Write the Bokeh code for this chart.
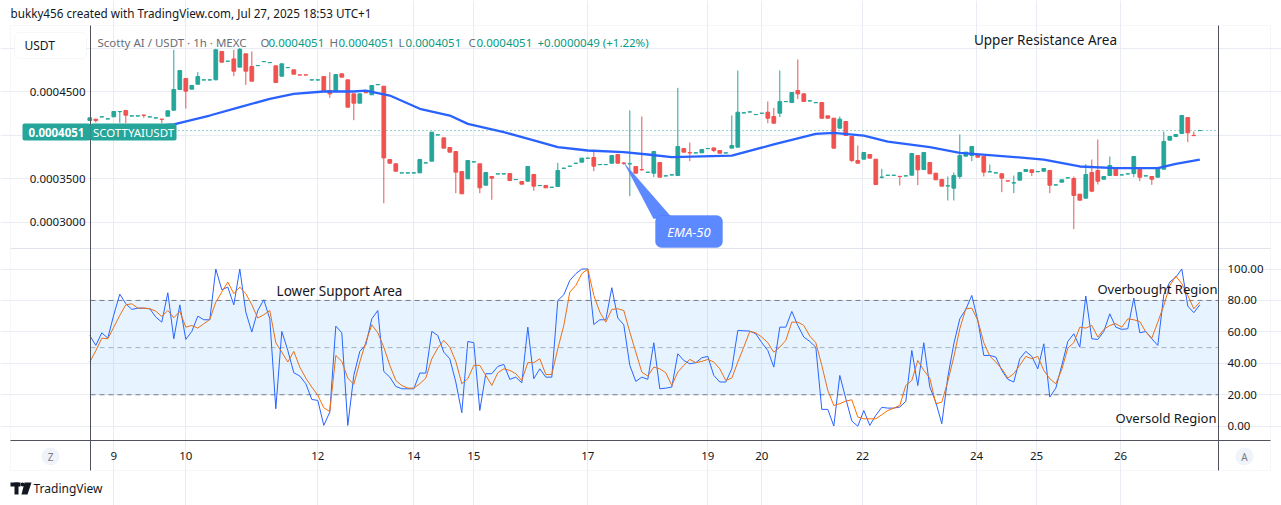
from bokeh.plotting import figure
from bokeh.models import (ColumnDataSource, FixedTicker, Label, BoxAnnotation, PolyAnnotation,
                          Range1d, Grid)
from bokeh.core.properties import value
from bokeh.embed import file_html
from bokeh.resources import INLINE

# ---------------- data ----------------
opens = [0.0004167, 0.0004182, 0.0004207, 0.0004184, 0.0004209, 0.0004268, 0.0004282, 0.0004218, 0.0004218, 0.0004228,
         0.0004207, 0.0004195, 0.0004182, 0.0004216, 0.0004285, 0.0004523, 0.0004649, 0.0004527, 0.0004584, 0.0004632,
         0.0004632, 0.0004634, 0.0004960, 0.0004847, 0.0004875, 0.0004780, 0.0004933, 0.0004787, 0.0004797, 0.0004843,
         0.0004831, 0.0004795, 0.0004676, 0.0004774, 0.0004749, 0.0004691, 0.0004691, 0.0004632, 0.0004632, 0.0004672,
         0.0004511, 0.0004500, 0.0004703, 0.0004634, 0.0004473, 0.0004366, 0.0004488, 0.0004462, 0.0004578, 0.0004561,
         0.0003718, 0.0003669, 0.0003563, 0.0003563, 0.0003563, 0.0003565, 0.0003678, 0.0003699, 0.0004000, 0.0003967,
         0.0003856, 0.0003810, 0.0003580, 0.0003496, 0.0003690, 0.0003669, 0.0003423, 0.0003523, 0.0003552, 0.0003552,
         0.0003557, 0.0003487, 0.0003466, 0.0003469, 0.0003546, 0.0003418, 0.0003420, 0.0003398, 0.0003408, 0.0003617,
         0.0003640, 0.0003674, 0.0003688, 0.0003732, 0.0003741, 0.0003659, 0.0003659, 0.0003676, 0.0003776, 0.0003678,
         0.0003667, 0.0003638, 0.0003602, 0.0003571, 0.0003561, 0.0003684, 0.0003529, 0.0003540, 0.0003534, 0.0003845,
         0.0003797, 0.0003793, 0.0003795, 0.0003843, 0.0003852, 0.0003822, 0.0003793, 0.0003849, 0.0003860, 0.0004253,
         0.0004264, 0.0004234, 0.0004249, 0.0004262, 0.0004213, 0.0004251, 0.0004383, 0.0004373, 0.0004511, 0.0004473,
         0.0004391, 0.0004371, 0.0004373, 0.0004220, 0.0004193, 0.0004078, 0.0004155, 0.0003983, 0.0003707, 0.0003722,
         0.0003776, 0.0003722, 0.0003513, 0.0003536, 0.0003536, 0.0003525, 0.0003529, 0.0003538, 0.0003764, 0.0003603,
         0.0003684, 0.0003561, 0.0003489, 0.0003414, 0.0003389, 0.0003523, 0.0003757, 0.0003764, 0.0003776, 0.0003753,
         0.0003575, 0.0003563, 0.0003554, 0.0003473, 0.0003448, 0.0003481, 0.0003580, 0.0003600, 0.0003578, 0.0003584,
         0.0003592, 0.0003425, 0.0003458, 0.0003506, 0.0003500, 0.0003320, 0.0003274, 0.0003569, 0.0003592, 0.0003492,
         0.0003534, 0.0003626, 0.0003540, 0.0003552, 0.0003557, 0.0003607, 0.0003529, 0.0003523, 0.0003515, 0.0003607,
         0.0003941, 0.0003983, 0.0004017, 0.0004201, 0.0003996, 0.0004051]
highs = [0.0004200, 0.0004185, 0.0004210, 0.0004187, 0.0004272, 0.0004271, 0.0004285, 0.0004221, 0.0004221, 0.0004236,
         0.0004210, 0.0004198, 0.0004183, 0.0004280, 0.0004979, 0.0004743, 0.0004651, 0.0004571, 0.0004722, 0.0004635,
         0.0004635, 0.0004990, 0.0004962, 0.0004850, 0.0004979, 0.0005000, 0.0004935, 0.0004960, 0.0004800, 0.0004846,
         0.0004834, 0.0004797, 0.0004820, 0.0004777, 0.0004751, 0.0004692, 0.0004692, 0.0004635, 0.0004635, 0.0004674,
         0.0004722, 0.0004697, 0.0004705, 0.0004636, 0.0004475, 0.0004475, 0.0004489, 0.0004571, 0.0004581, 0.0004563,
         0.0003720, 0.0003671, 0.0003566, 0.0003566, 0.0003566, 0.0003720, 0.0003681, 0.0004035, 0.0004003, 0.0003969,
         0.0003858, 0.0003812, 0.0003582, 0.0003709, 0.0003693, 0.0003671, 0.0003571, 0.0003525, 0.0003555, 0.0003555,
         0.0003559, 0.0003490, 0.0003468, 0.0003640, 0.0003548, 0.0003421, 0.0003422, 0.0003401, 0.0003680, 0.0003620,
         0.0003643, 0.0003677, 0.0003736, 0.0003735, 0.0003822, 0.0003662, 0.0003662, 0.0003766, 0.0003778, 0.0003688,
         0.0004282, 0.0003640, 0.0004213, 0.0003574, 0.0003812, 0.0003686, 0.0003532, 0.0003543, 0.0004542, 0.0003847,
         0.0003914, 0.0003796, 0.0003835, 0.0003846, 0.0003854, 0.0003824, 0.0003796, 0.0004224, 0.0004741, 0.0004256,
         0.0004267, 0.0004237, 0.0004252, 0.0004385, 0.0004312, 0.0004741, 0.0004386, 0.0004490, 0.0004868, 0.0004475,
         0.0004394, 0.0004374, 0.0004375, 0.0004222, 0.0004195, 0.0004213, 0.0004157, 0.0003985, 0.0003879, 0.0003801,
         0.0003778, 0.0003724, 0.0003611, 0.0003539, 0.0003539, 0.0003527, 0.0003532, 0.0003789, 0.0003766, 0.0003801,
         0.0003686, 0.0003563, 0.0003491, 0.0003523, 0.0003569, 0.0004006, 0.0003805, 0.0003870, 0.0003778, 0.0003755,
         0.0003661, 0.0003566, 0.0003556, 0.0003474, 0.0003534, 0.0003571, 0.0003605, 0.0003602, 0.0003581, 0.0003617,
         0.0003594, 0.0003428, 0.0003487, 0.0003515, 0.0003523, 0.0003322, 0.0003665, 0.0003718, 0.0003948, 0.0003525,
         0.0003753, 0.0003628, 0.0003543, 0.0003555, 0.0003755, 0.0003609, 0.0003532, 0.0003525, 0.0003617, 0.0004040,
         0.0003985, 0.0004008, 0.0004226, 0.0004203, 0.0004040, 0.0004051]
lows = [0.0004160, 0.0004144, 0.0004206, 0.0004183, 0.0004207, 0.0004140, 0.0004136, 0.0004217, 0.0004217, 0.0004197,
        0.0004206, 0.0004194, 0.0004136, 0.0004214, 0.0004283, 0.0004521, 0.0004304, 0.0004525, 0.0004582, 0.0004631,
        0.0004631, 0.0004632, 0.0004835, 0.0004846, 0.0004676, 0.0004778, 0.0004576, 0.0004617, 0.0004796, 0.0004842,
        0.0004830, 0.0004601, 0.0004674, 0.0004773, 0.0004697, 0.0004688, 0.0004688, 0.0004631, 0.0004631, 0.0004498,
        0.0004427, 0.0004498, 0.0004663, 0.0004318, 0.0004170, 0.0004364, 0.0004485, 0.0004460, 0.0004577, 0.0003216,
        0.0003674, 0.0003582, 0.0003562, 0.0003562, 0.0003562, 0.0003563, 0.0003677, 0.0003697, 0.0003999, 0.0003847,
        0.0003801, 0.0003331, 0.0003322, 0.0003494, 0.0003689, 0.0003331, 0.0003421, 0.0003255, 0.0003551, 0.0003551,
        0.0003475, 0.0003486, 0.0003433, 0.0003467, 0.0003358, 0.0003417, 0.0003391, 0.0003397, 0.0003406, 0.0003616,
        0.0003639, 0.0003673, 0.0003686, 0.0003731, 0.0003584, 0.0003658, 0.0003658, 0.0003674, 0.0003674, 0.0003657,
        0.0003297, 0.0003559, 0.0003592, 0.0003570, 0.0003515, 0.0003513, 0.0003528, 0.0003539, 0.0003532, 0.0003801,
        0.0003699, 0.0003792, 0.0003793, 0.0003842, 0.0003803, 0.0003789, 0.0003792, 0.0003847, 0.0003858, 0.0004252,
        0.0004263, 0.0004233, 0.0004248, 0.0004136, 0.0004134, 0.0004205, 0.0004382, 0.0004371, 0.0004412, 0.0004383,
        0.0004390, 0.0004370, 0.0004191, 0.0004191, 0.0003847, 0.0004076, 0.0003992, 0.0003688, 0.0003674, 0.0003720,
        0.0003732, 0.0003429, 0.0003500, 0.0003535, 0.0003535, 0.0003420, 0.0003528, 0.0003536, 0.0003423, 0.0003601,
        0.0003552, 0.0003483, 0.0003410, 0.0003247, 0.0003247, 0.0003496, 0.0003755, 0.0003699, 0.0003743, 0.0003523,
        0.0003573, 0.0003562, 0.0003343, 0.0003470, 0.0003331, 0.0003479, 0.0003578, 0.0003527, 0.0003577, 0.0003582,
        0.0003331, 0.0003424, 0.0003456, 0.0003505, 0.0002918, 0.0003249, 0.0003272, 0.0003343, 0.0003431, 0.0003490,
        0.0003532, 0.0003532, 0.0003539, 0.0003551, 0.0003515, 0.0003469, 0.0003528, 0.0003427, 0.0003513, 0.0003605,
        0.0003939, 0.0003981, 0.0004015, 0.0003918, 0.0003986, 0.0004051]
closes = [0.0004197, 0.0004167, 0.0004209, 0.0004186, 0.0004270, 0.0004270, 0.0004228, 0.0004220, 0.0004220, 0.0004226,
          0.0004209, 0.0004197, 0.0004180, 0.0004278, 0.0004523, 0.0004741, 0.0004504, 0.0004569, 0.0004672, 0.0004634,
          0.0004634, 0.0004980, 0.0004837, 0.0004849, 0.0004734, 0.0004985, 0.0004734, 0.0004619, 0.0004799, 0.0004845,
          0.0004833, 0.0004603, 0.0004818, 0.0004776, 0.0004699, 0.0004689, 0.0004689, 0.0004634, 0.0004634, 0.0004500,
          0.0004473, 0.0004695, 0.0004665, 0.0004320, 0.0004366, 0.0004473, 0.0004486, 0.0004569, 0.0004580, 0.0003737,
          0.0003676, 0.0003584, 0.0003565, 0.0003565, 0.0003565, 0.0003718, 0.0003680, 0.0004033, 0.0004002, 0.0003849,
          0.0003803, 0.0003573, 0.0003324, 0.0003707, 0.0003692, 0.0003393, 0.0003569, 0.0003504, 0.0003554, 0.0003554,
          0.0003477, 0.0003489, 0.0003435, 0.0003638, 0.0003412, 0.0003420, 0.0003393, 0.0003400, 0.0003592, 0.0003619,
          0.0003642, 0.0003676, 0.0003734, 0.0003734, 0.0003642, 0.0003661, 0.0003661, 0.0003764, 0.0003676, 0.0003675,
          0.0003670, 0.0003561, 0.0003599, 0.0003573, 0.0003810, 0.0003515, 0.0003531, 0.0003542, 0.0003868, 0.0003803,
          0.0003794, 0.0003795, 0.0003833, 0.0003845, 0.0003822, 0.0003791, 0.0003795, 0.0003879, 0.0004262, 0.0004255,
          0.0004266, 0.0004236, 0.0004251, 0.0004193, 0.0004136, 0.0004385, 0.0004385, 0.0004488, 0.0004473, 0.0004385,
          0.0004393, 0.0004373, 0.0004193, 0.0004193, 0.0003849, 0.0004182, 0.0003994, 0.0003707, 0.0003676, 0.0003799,
          0.0003734, 0.0003431, 0.0003516, 0.0003538, 0.0003538, 0.0003522, 0.0003531, 0.0003787, 0.0003600, 0.0003799,
          0.0003554, 0.0003485, 0.0003412, 0.0003417, 0.0003534, 0.0003764, 0.0003803, 0.0003868, 0.0003745, 0.0003573,
          0.0003578, 0.0003565, 0.0003504, 0.0003471, 0.0003451, 0.0003569, 0.0003603, 0.0003569, 0.0003580, 0.0003615,
          0.0003423, 0.0003427, 0.0003485, 0.0003508, 0.0003305, 0.0003251, 0.0003546, 0.0003354, 0.0003469, 0.0003523,
          0.0003649, 0.0003534, 0.0003542, 0.0003554, 0.0003753, 0.0003515, 0.0003531, 0.0003492, 0.0003615, 0.0003925,
          0.0003983, 0.0004006, 0.0004224, 0.0004025, 0.0003993, 0.0004051]

# EMA-50 read at selected candles
ema_idx = [0, 7, 14, 20, 25, 30, 34, 39, 44, 46, 50, 55, 60, 63, 69, 74, 78, 83, 89, 93, 97, 107,
           114, 121, 124, 129, 133, 140, 145, 151, 159, 165, 171, 178, 181, 185]
ema_val = [0.0004060, 0.0004085, 0.0004121, 0.0004224, 0.0004320, 0.0004416, 0.0004473, 0.0004500,
           0.0004500, 0.0004511, 0.0004454, 0.0004301, 0.0004224, 0.0004128, 0.0004033, 0.0003937,
           0.0003860, 0.0003822, 0.0003803, 0.0003776, 0.0003745, 0.0003764, 0.0003891, 0.0004013,
           0.0004025, 0.0003994, 0.0003925, 0.0003860, 0.0003795, 0.0003764, 0.0003718, 0.0003638,
           0.0003619, 0.0003619, 0.0003669, 0.0003718]

stoch_k = [57.7, 51.4, 59.4, 56.0, 70.9, 84.0, 77.9, 74.3, 75.1, 75.1,
           74.7, 69.4, 66.2, 84.9, 55.6, 77.2, 55.2, 60.3, 70.0, 67.7,
           67.7, 100.0, 86.8, 88.5, 77.2, 100.0, 72.6, 59.9, 73.6, 80.4,
           68.3, 11.1, 60.3, 48.2, 34.0, 31.9, 27.0, 17.0, 16.4, 0.5,
           9.0, 63.7, 59.4, 0.5, 32.3, 47.6, 51.8, 68.3, 73.6, 34.8,
           31.2, 25.3, 23.8, 23.8, 23.8, 33.8, 33.8, 60.3, 57.7, 47.1,
           42.9, 28.1, 8.6, 53.9, 53.1, 10.0, 33.4, 33.4, 38.0, 39.3,
           29.8, 31.2, 27.6, 63.0, 30.2, 36.5, 31.2, 31.2, 80.0, 83.6,
           92.7, 97.0, 100.0, 100.0, 64.7, 67.7, 67.7, 88.1, 68.8, 64.5,
           38.7, 28.5, 31.2, 29.8, 53.1, 23.8, 24.2, 24.9, 46.1, 41.8,
           39.7, 40.4, 43.5, 44.4, 32.3, 28.1, 28.1, 36.5, 60.9, 60.7,
           60.5, 58.8, 53.1, 48.2, 37.6, 63.0, 63.0, 73.0, 64.1, 56.7,
           53.9, 50.3, 10.7, 10.7, 0.1, 32.3, 17.5, 3.3, 0.0, 10.0,
           0.5, 6.9, 12.0, 11.5, 11.5, 12.2, 15.8, 48.2, 25.9, 53.1,
           24.9, 15.3, 1.6, 31.2, 52.4, 68.3, 74.3, 83.2, 67.3, 45.0,
           45.0, 44.0, 35.5, 29.8, 28.1, 42.9, 47.6, 44.4, 36.5, 52.4,
           18.5, 24.2, 38.7, 53.9, 58.8, 50.3, 82.8, 55.6, 55.2, 60.3,
           71.5, 63.0, 61.6, 62.0, 81.5, 59.4, 60.3, 55.6, 51.4, 83.6,
           91.7, 94.8, 100.0, 76.4, 72.2, 77.2]
stoch_d = [40.8, 48.0, 56.0, 55.6, 63.0, 70.5, 77.2, 77.9, 75.1, 75.1,
           74.7, 73.2, 69.8, 73.6, 69.0, 73.0, 63.0, 64.1, 62.4, 65.2,
           67.9, 78.9, 85.3, 91.7, 84.3, 88.5, 84.3, 77.2, 68.8, 70.9,
           73.6, 53.1, 47.1, 40.8, 47.6, 37.6, 30.6, 24.9, 19.6, 11.7,
           9.4, 45.0, 41.2, 30.6, 26.6, 40.8, 53.5, 64.5, 59.4, 50.3,
           38.7, 29.1, 25.9, 24.2, 24.2, 27.0, 30.6, 42.9, 49.7, 54.6,
           50.3, 41.2, 27.0, 30.2, 38.7, 38.7, 32.3, 25.9, 34.0, 36.5,
           35.5, 33.4, 29.1, 40.4, 40.4, 42.9, 32.9, 32.9, 49.3, 64.1,
           85.3, 89.5, 97.0, 100.0, 83.2, 72.6, 66.2, 74.3, 74.7, 73.6,
           59.9, 47.1, 34.4, 31.9, 37.6, 36.5, 34.0, 25.9, 34.4, 38.7,
           42.5, 40.4, 41.2, 42.5, 40.8, 36.5, 29.1, 30.6, 40.8, 50.3,
           60.3, 59.4, 56.7, 53.1, 47.1, 50.3, 54.6, 66.2, 66.2, 64.1,
           57.3, 53.1, 38.7, 22.8, 13.2, 14.3, 16.0, 16.8, 5.8, 4.7,
           4.7, 4.7, 7.3, 10.0, 11.5, 13.2, 25.9, 29.1, 41.8, 35.5,
           30.6, 14.3, 15.3, 28.5, 44.0, 62.0, 74.7, 75.1, 67.3, 53.1,
           44.6, 40.8, 36.5, 30.6, 33.4, 38.7, 44.4, 42.9, 44.4, 35.5,
           30.2, 27.0, 36.1, 49.7, 53.1, 63.0, 62.4, 64.1, 56.7, 61.6,
           64.1, 65.2, 63.0, 68.3, 67.7, 66.6, 59.9, 56.0, 66.2, 76.8,
           89.5, 95.5, 90.6, 83.2, 74.7, 78.9]

date_ticks = [4, 16, 38, 54, 64, 83, 103, 112, 128.8, 147.8, 157.8, 171.8]
date_labels = ["9", "10", "12", "14", "15", "17", "19", "20", "22", "24", "25", "26"]
price_ticks = [0.0003, 0.00035, 0.0004, 0.00045, 0.0005]
price_labels = ["0.0003000", "0.0003500", "0.0004000", "0.0004500", "0.0005000"]
stoch_ticks = [0, 20, 40, 60, 80, 100]
stoch_labels = ["0.00", "20.00", "40.00", "60.00", "80.00", "100.00"]
stoch_levels = [80, 50, 20]
last_price = 0.0004051

# ---------------- styling / layout helpers ----------------
FONT = "Noto Sans"
TEAL = "#26a69a"
RED = "#ef5350"
BLUE = "#2962ff"
ORANGE = "#ff6d00"
GRID = "#e9edf3"
DARK = "#50535e"
FRAME = "#e0e3eb"
TXT = "#131722"
W, H = 1281, 505

# page-pixel <-> data helpers (the whole canvas is the plotting frame)
X0, DX = 89.3, 6.0               # page x of candle 0 and px per candle
PY0, PPP = 134.5, 0.00005 / 43.5  # page y of 0.0004 and price per px
SY0, SPP = 425.7, 1.572           # page y of stoch 0 and px per stoch unit


def ix(px):
    return (px - X0) / DX


def pp(py):
    return 0.0004 + (PY0 - py) * PPP


def sp(py):
    return (SY0 - py) / SPP


n = len(opens)
idx = list(range(n))
up = [c >= o for o, c in zip(opens, closes)]
src = ColumnDataSource(dict(
    x=idx, h=highs, l=lows,
    top=[max(o, c) for o, c in zip(opens, closes)],
    bot=[min(o, c) for o, c in zip(opens, closes)],
    color=[TEAL if u else RED for u in up]))

p = figure(width=W, height=H, x_range=Range1d(ix(0), ix(W)), y_range=Range1d(pp(H), pp(0)),
           extra_y_ranges={"stoch": Range1d(sp(H), sp(0))},
           output_backend="svg", toolbar_location=None, x_axis_location=None, y_axis_location=None,
           min_border=0, min_border_left=0, min_border_right=0, min_border_top=0, min_border_bottom=0)
p.outline_line_color = None
p.background_fill_color = "white"
p.border_fill_color = "white"
p.xgrid.visible = False
p.ygrid.visible = False

L, R = ix(90), ix(1218)

# grids
p.add_layout(Grid(dimension=0, ticker=FixedTicker(ticks=date_ticks), bounds=(pp(440), pp(25)),
                  grid_line_color=GRID))
p.add_layout(Grid(dimension=1, ticker=FixedTicker(ticks=price_ticks), bounds=(L, R),
                  grid_line_color=GRID))
p.add_layout(Grid(dimension=1, ticker=FixedTicker(ticks=stoch_ticks), bounds=(L, R),
                  y_range_name="stoch", grid_line_color=GRID))


def sbox(x0, y0, x1, y1, **kw):
    """box annotation in page pixels (y measured from the top)"""
    p.add_layout(BoxAnnotation(left=x0, right=x1, top=H - y0, bottom=H - y1,
                               left_units="screen", right_units="screen",
                               top_units="screen", bottom_units="screen", **kw))


def lab(px, py, text, size=13, color=TXT, align="left", **kw):
    p.add_layout(Label(x=px, y=H - py, x_units="screen", y_units="screen",
                       text=text, text_font=FONT, text_font_size=f"{size}px", text_color=color,
                       text_align=align, text_baseline="middle", **kw))


# ---- stochastic pane ----
p.add_layout(BoxAnnotation(left=L, right=R, bottom=20, top=80, y_range_name="stoch",
                           fill_color="#2196f3", fill_alpha=0.11, line_color=None))
p.segment(x0=[L] * 3, x1=[R] * 3, y0=stoch_levels, y1=stoch_levels, y_range_name="stoch",
          line_color="#787b86", line_alpha=[1.0, 0.55, 1.0], line_dash="5 4", line_width=1)
p.line(idx, stoch_k, y_range_name="stoch", line_color=BLUE, line_width=1)
p.line(idx, stoch_d, y_range_name="stoch", line_color=ORANGE, line_width=1)

# ---- price pane ----
p.segment(x0=[L], x1=[R], y0=[last_price], y1=[last_price], line_color=TEAL,
          line_dash="1 3", line_width=1)
p.segment(x0="x", y0="l", x1="x", y1="h", color="color", line_width=1, source=src)
p.vbar(x="x", width=0.62, top="top", bottom="bot", fill_color="color", line_color="color",
       line_width=1, source=src)
p.line(ema_idx, ema_val, line_color=BLUE, line_width=2.3)

# ---- axis texts ----
p.text(x=[ix(85)] * len(price_ticks), y=price_ticks, text=price_labels, text_align="right",
       text_baseline="middle", text_font=value(FONT), text_font_size=value("11.5px"),
       text_color=TXT)
p.text(x=[ix(1227)] * len(stoch_ticks), y=stoch_ticks, text=stoch_labels, y_range_name="stoch",
       text_align="left", text_baseline="middle", text_font=value(FONT),
       text_font_size=value("11.5px"), text_color=TXT)
p.text(x=date_ticks, y=[sp(455)] * len(date_ticks), text=date_labels, y_range_name="stoch",
       text_align="center", text_baseline="middle", text_font=value(FONT),
       text_font_size=value("11.5px"), text_color=TXT)

# ---- frame lines ----
sbox(10, 25, 1270, 470, fill_color=None, line_color=FRAME, line_width=1)
sbox(10, 247.5, 1270, 248.5, fill_color=FRAME, fill_alpha=1, line_color=None)
sbox(10, 439.5, 1270, 440.5, fill_color=DARK, fill_alpha=1, line_color=None)
sbox(89.5, 25, 90.5, 470, fill_color=DARK, fill_alpha=1, line_color=None)
sbox(1217.5, 25, 1218.5, 470, fill_color=DARK, fill_alpha=1, line_color=None)

# ---- EMA-50 callout ----
p.add_layout(PolyAnnotation(xs=[624, 653, 672], ys=[H - 163, H - 218, H - 218],
                            xs_units="screen", ys_units="screen",
                            fill_color="#5c89ff", fill_alpha=1, line_color="#3f70f2", line_width=1))
sbox(655, 215, 722, 247, fill_color="#5c89ff", fill_alpha=1, line_color="#3f70f2",
     line_width=1, border_radius=6)
lab(688.5, 231, "EMA-50", size=13, color="white", align="center", text_font_style="italic")

# ---- header / legend ----
lab(10, 12, "bukky456 created with TradingView.com, Jul 27, 2025 18:53 UTC+1", size=11.7)
sbox(14, 32, 86, 58, fill_color="white", fill_alpha=1, line_color=FRAME, line_width=1,
     border_radius=5)
lab(24, 45, "USDT", size=12)
lab(97, 42, "Scotty AI / USDT · 1h · MEXC", size=11.5, color="#6a6d78")
for lx, letter, vx, val in [(260, "O", 268, "0.0004051"), (329, "H", 338, "0.0004051"),
                            (398, "L", 405, "0.0004051"), (468, "C", 476, "0.0004051")]:
    lab(lx, 42, letter, size=11.5, color="#6a6d78")
    lab(vx, 42, val, size=11.5, color="#089981")
lab(537, 42, "+0.0000049 (+1.22%)", size=11.5, color="#089981")

# ---- price label ----
sbox(22, 123, 90, 140, fill_color=TEAL, fill_alpha=1, line_color=None, border_radius=2)
sbox(90, 123, 176, 140, fill_color=TEAL, fill_alpha=1, line_color=None, border_radius=2)
lab(56, 131.5, "0.0004051", size=11.5, color="white", align="center", text_font_style="bold")
lab(133, 131.5, "SCOTTYAIUSDT", size=11.5, color="white", align="center")

# ---- annotations ----
lab(1045, 39, "Upper Resistance Area", size=13.5, align="center")
lab(339, 290, "Lower Support Area", size=13.5, align="center")
lab(1217, 288, "Overbought Region", size=13, align="right")
lab(1216, 417, "Oversold Region", size=13, align="right")

# ---- time-axis buttons and footer ----
sbox(41, 447, 59, 465, fill_color="#f0f3fa", fill_alpha=1, line_color=None, border_radius=9)
lab(50, 456, "Z", size=10, color="#787b86", align="center")
sbox(1235, 447, 1253, 465, fill_color="#f0f3fa", fill_alpha=1, line_color=None, border_radius=9)
lab(1244, 456, "A", size=10, color="#787b86", align="center")
sbox(10, 482, 20, 486, fill_color=TXT, fill_alpha=1, line_color=None)
sbox(14, 482, 18, 494, fill_color=TXT, fill_alpha=1, line_color=None)
p.add_layout(PolyAnnotation(xs=[24, 31, 27, 21], ys=[H - 482, H - 482, H - 494, H - 494],
                            xs_units="screen", ys_units="screen",
                            fill_color=TXT, fill_alpha=1, line_color=None))
sbox(20, 482, 24, 486, fill_color=TXT, fill_alpha=1, line_color=None, border_radius=2)
lab(33, 488, "TradingView", size=12)

open("out.html", "w").write(file_html(p, INLINE))
